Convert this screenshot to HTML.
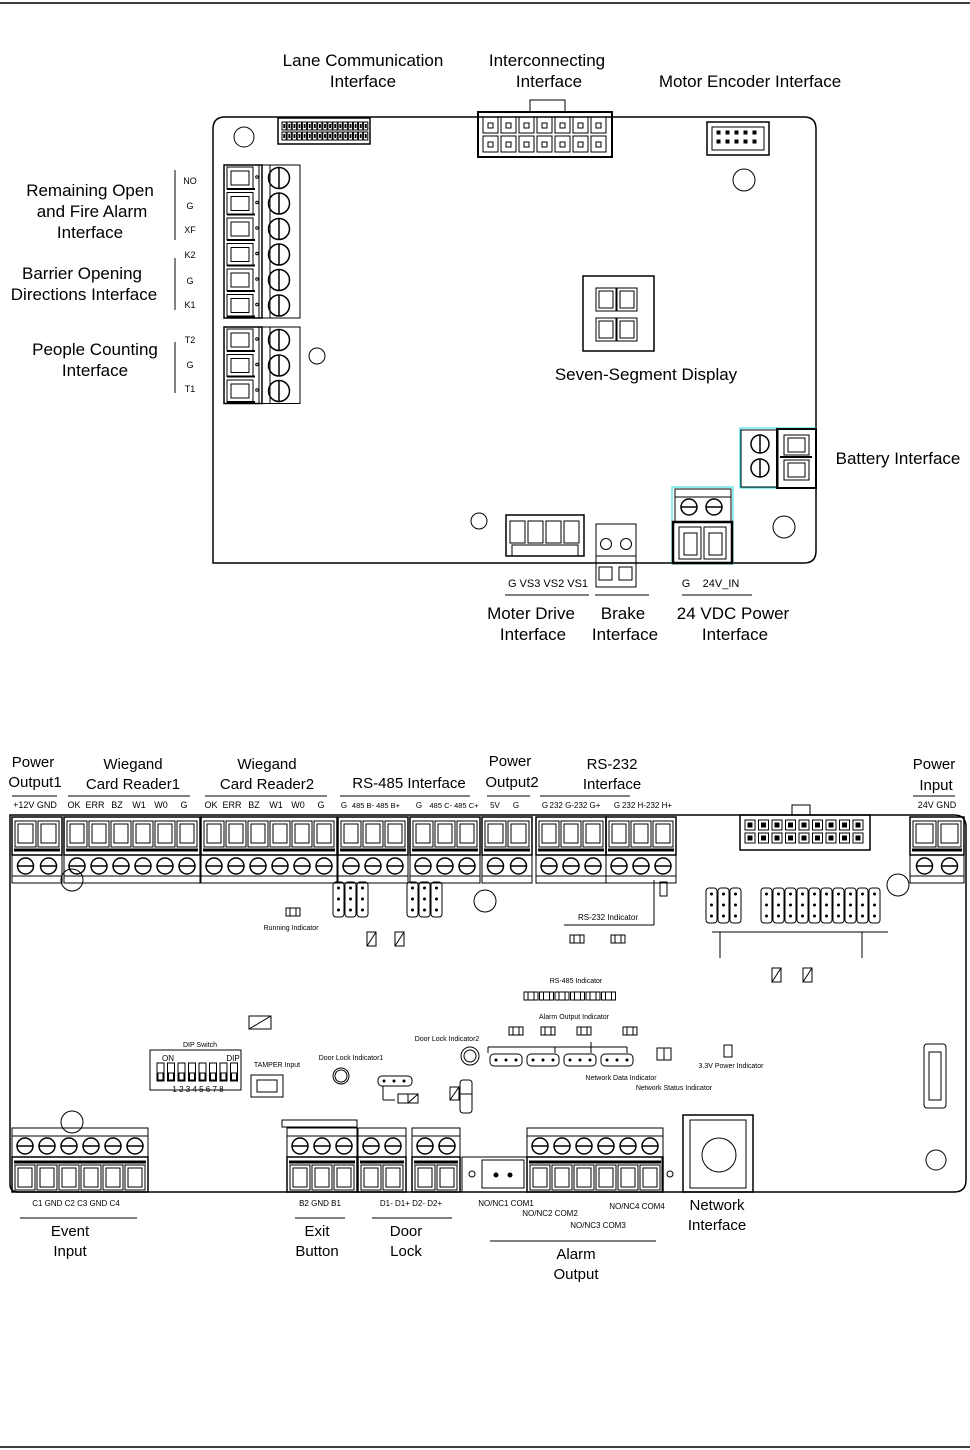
<!DOCTYPE html>
<html><head><meta charset="utf-8">
<style>
html,body{margin:0;padding:0;background:#fff;}
svg{display:block;font-family:"Liberation Sans",sans-serif;}
.h{font-size:17px;text-anchor:middle;}
.m{font-size:15px;text-anchor:middle;}
.s{font-size:9px;text-anchor:middle;}
.t{font-size:7px;text-anchor:middle;}
.p{font-size:11px;text-anchor:middle;}
</style></head><body>
<svg id="s" width="970" height="1450" viewBox="0 0 970 1450" xmlns="http://www.w3.org/2000/svg" fill="none" stroke="#000" stroke-width="1">
<line x1="0" y1="3" x2="970" y2="3" stroke-width="1.5"/>
<line x1="0" y1="1447" x2="970" y2="1447" stroke-width="1.5"/>
<g id="g" stroke="#000"></g>
<g fill="#000" stroke="none">
<text class="h" x="363" y="66">Lane Communication</text>
<text class="h" x="363" y="87">Interface</text>
<text class="h" x="547" y="66">Interconnecting</text>
<text class="h" x="549" y="87">Interface</text>
<text class="h" x="750" y="87">Motor Encoder Interface</text>
<text class="h" x="90" y="196">Remaining Open</text>
<text class="h" x="92" y="217">and Fire Alarm</text>
<text class="h" x="90" y="238">Interface</text>
<text class="h" x="82" y="279">Barrier Opening</text>
<text class="h" x="84" y="300">Directions Interface</text>
<text class="h" x="95" y="355">People Counting</text>
<text class="h" x="95" y="376">Interface</text>
<text class="s" x="190" y="184">NO</text><text class="s" x="190" y="209">G</text><text class="s" x="190" y="233">XF</text>
<text class="s" x="190" y="258">K2</text><text class="s" x="190" y="284">G</text><text class="s" x="190" y="308">K1</text>
<text class="s" x="190" y="343">T2</text><text class="s" x="190" y="368">G</text><text class="s" x="190" y="392">T1</text>
<text class="h" x="646" y="380">Seven-Segment Display</text>
<text class="h" x="898" y="464">Battery Interface</text>
<text class="p" x="548" y="587">G  VS3 VS2 VS1</text>
<text class="p" x="686" y="587">G</text><text class="p" x="721" y="587">24V_IN</text>
<text class="h" x="531" y="619">Moter Drive</text><text class="h" x="533" y="640">Interface</text>
<text class="h" x="623" y="619">Brake</text><text class="h" x="625" y="640">Interface</text>
<text class="h" x="733" y="619">24 VDC Power</text><text class="h" x="735" y="640">Interface</text>
<text class="m" x="33" y="767">Power</text><text class="m" x="35" y="787">Output1</text>
<text class="m" x="133" y="769">Wiegand</text><text class="m" x="133" y="789">Card Reader1</text>
<text class="m" x="267" y="769">Wiegand</text><text class="m" x="267" y="789">Card Reader2</text>
<text class="m" x="409" y="788">RS-485 Interface</text>
<text class="m" x="510" y="766">Power</text><text class="m" x="512" y="787">Output2</text>
<text class="m" x="612" y="769">RS-232</text><text class="m" x="612" y="789">Interface</text>
<text class="m" x="934" y="769">Power</text><text class="m" x="936" y="790">Input</text>
<text class="s" x="35" y="808">+12V  GND</text>
<text class="s" x="74" y="808">OK</text><text class="s" x="95" y="808">ERR</text><text class="s" x="117" y="808">BZ</text><text class="s" x="139" y="808">W1</text><text class="s" x="161" y="808">W0</text><text class="s" x="184" y="808">G</text>
<text class="s" x="211" y="808">OK</text><text class="s" x="232" y="808">ERR</text><text class="s" x="254" y="808">BZ</text><text class="s" x="276" y="808">W1</text><text class="s" x="298" y="808">W0</text><text class="s" x="321" y="808">G</text>
<text class="s" x="344" y="808" style="font-size:8px">G</text><text class="s" x="376" y="808" style="font-size:7.5px">485 B- 485 B+</text>
<text class="s" x="419" y="808" style="font-size:8px">G</text><text class="s" x="454" y="808" style="font-size:7.5px">485 C- 485 C+</text>
<text class="s" x="495" y="808" style="font-size:8px">5V</text><text class="s" x="516" y="808" style="font-size:8px">G</text>
<text class="s" x="545" y="808" style="font-size:8px">G</text><text class="s" x="575" y="808" style="font-size:8px">232 G-232 G+</text>
<text class="s" x="617" y="808" style="font-size:8px">G</text><text class="s" x="647" y="808" style="font-size:8px">232 H-232 H+</text>
<text class="s" x="937" y="808">24V  GND</text>
<text class="t" x="291" y="930">Running Indicator</text>
<text class="t" x="608" y="920" style="font-size:8px">RS-232 Indicator</text>
<text class="t" x="576" y="983">RS-485 Indicator</text>
<text class="t" x="574" y="1019">Alarm Output Indicator</text>
<text class="t" x="200" y="1047">DIP Switch</text>
<text class="t" x="277" y="1067">TAMPER Input</text>
<text class="t" x="351" y="1060">Door Lock Indicator1</text>
<text class="t" x="447" y="1041">Door Lock Indicator2</text>
<text class="t" x="621" y="1080">Network Data Indicator</text>
<text class="t" x="674" y="1090">Network Status Indicator</text>
<text class="t" x="731" y="1068">3.3V Power Indicator</text>
<text class="t" x="168" y="1061" style="font-size:8px">ON</text><text class="t" x="233" y="1061" style="font-size:8px">DIP</text>
<text class="t" x="198" y="1092" style="font-size:8px">1  2  3  4  5  6  7  8</text>
<text class="s" x="76" y="1206" style="font-size:8px">C1  GND  C2   C3  GND  C4</text>
<text class="s" x="320" y="1206" style="font-size:8px">B2   GND   B1</text>
<text class="s" x="411" y="1206" style="font-size:8px">D1-   D1+    D2-   D2+</text>
<text class="s" x="506" y="1206" style="font-size:8px">NO/NC1 COM1</text>
<text class="s" x="550" y="1216" style="font-size:8px">NO/NC2 COM2</text>
<text class="s" x="598" y="1228" style="font-size:8px">NO/NC3 COM3</text>
<text class="s" x="637" y="1209" style="font-size:8px">NO/NC4 COM4</text>
<text class="m" x="70" y="1236">Event</text><text class="m" x="70" y="1256">Input</text>
<text class="m" x="317" y="1236">Exit</text><text class="m" x="317" y="1256">Button</text>
<text class="m" x="406" y="1236">Door</text><text class="m" x="406" y="1256">Lock</text>
<text class="m" x="576" y="1259">Alarm</text><text class="m" x="576" y="1279">Output</text>
<text class="m" x="717" y="1210">Network</text><text class="m" x="717" y="1230">Interface</text>
</g>
</svg>
<script>
var G=document.getElementById('g'),NS='http://www.w3.org/2000/svg';
function e(t,a){var n=document.createElementNS(NS,t);for(var k in a)n.setAttribute(k,a[k]);G.appendChild(n);return n;}
function R(x,y,w,h,o){var a={x:x,y:y,width:w,height:h};for(var k in o)a[k]=o[k];return e('rect',a);}
function L(a,b,c,d,w){return e('line',{x1:a,y1:b,x2:c,y2:d,'stroke-width':w||1});}
function C(x,y,r,o){var a={cx:x,cy:y,r:r};for(var k in o)a[k]=o[k];return e('circle',a);}
function S(x,y,r,vert){C(x,y,r,{'stroke-width':1.5});if(vert)L(x,y-r,x,y+r,1.5);else L(x-r,y,x+r,y,1.5);}
// TOP BOARD
e('path',{d:'M213,563 L213,129 Q213,117 225,117 L804,117 Q816,117 816,129 L816,551 Q816,563 804,563 Z','stroke-width':1.5});
R(278,118,92,26,{'stroke-width':1.5});
for(var r=0;r<2;r++)for(var i=0;i<17;i++){R(282+i*5.1,122+r*10,4.2,8,{'stroke-width':1});R(283.3+i*5.1,124+r*10,1.8,4,{fill:'#000',stroke:'none'});}
R(530,100,35,12);R(478,112,134,45,{'stroke-width':2});
for(var r=0;r<2;r++)for(var i=0;i<7;i++){R(483+i*18,117+r*19,15,16);R(488+i*18,123+r*19,5,5);}
R(707,122,62,33,{'stroke-width':1.5});R(712,127,52,23);
for(var r=0;r<2;r++)for(var i=0;i<5;i++)R(717+i*9,131+r*9,3,3,{fill:'#000'});
C(244,137,10);C(744,180,11);C(317,356,8);C(479,521,8);C(784,527,11);
function vblock(y,n){var h=n*25.5;R(224,y,38,h,{'stroke-width':1.5});R(262,y,38,h);L(270,y,270,y+h);
 for(var i=0;i<n;i++){var yy=y+i*25.5;R(227,yy+2,26,22);R(231,yy+6,18,14);L(227,yy+24,255,yy+24,2);C(257,yy+12,1.3);S(279,yy+13,10.5,true);} L(259,y,259,y+h);}
vblock(165,6);vblock(327,3);
L(175,170,175,240);L(175,258,175,310);L(175,342,175,393);
R(583,276,71,75,{'stroke-width':1.5});
[[596,288],[617,288],[596,318],[617,318]].forEach(function(p){R(p[0],p[1],20,23);R(p[0]+3,p[1]+3,14,17);});
R(740,428,76,60,{stroke:'#2dd','stroke-width':1});R(741,430,37,57);R(777,429,39,59,{'stroke-width':2});
S(760,444,9,true);S(760,468,9,true);
R(784,435,25,20);R(788,438,17,14);R(784,460,25,20);R(788,463,17,14);L(780,457,812,457,2);
R(506,515,78,41,{'stroke-width':1.5});for(var i=0;i<4;i++)R(510+i*18,521,15,22);R(512,545,66,11);
R(596,524,40,63);L(596,556,636,556);C(606,544,5.5);C(626,544,5.5);R(599,567,13,13);R(619,567,13,13);
R(672,487,61,77,{stroke:'#2dd'});R(675,489,56,33);L(675,497,731,497);S(689,507,8,false);S(714,507,8,false);
R(673,522,59,41,{'stroke-width':2.5});R(679,527,22,32);R(684,533,13,22);R(704,527,22,32);R(709,533,13,22);
L(505,595,589,595);L(595,595,649,595);L(682,595,752,595);
// BOTTOM BOARD
e('path',{d:'M10,815 L954,815 Q966,815 966,827 L966,1180 Q966,1192 954,1192 L18,1192 Q10,1192 10,1184 Z','stroke-width':1.5});
function topBlock(x,n,w){var W=n*w+4;R(x,817,W,38,{'stroke-width':1.5});R(x,855,W,28);L(x,876,x+W,876);
 L(x+2,850,x+W-2,850,3);
 for(var i=0;i<n;i++){var xx=x+2+i*w;R(xx+1,821,w-2,26);R(xx+4,824,w-8,19);S(xx+w/2,866,8,false);}}
topBlock(12,2,23);topBlock(64,6,22);topBlock(201,6,22);topBlock(338,3,22);topBlock(410,3,22);topBlock(482,2,23);topBlock(536,3,22);topBlock(606,3,22);topBlock(910,2,25);
[[12,57],[68,190],[205,327],[340,470],[487,530],[540,630],[913,955]].forEach(function(p){L(p[0],796,p[1],796);});
R(792,805,18,10);R(740,815,130,35,{'stroke-width':1.5});
for(var r=0;r<2;r++)for(var i=0;i<9;i++){R(745+i*13.5,820+r*13,10,10);R(748+i*13.5,823+r*13,4,4,{fill:'#000'});}
function hdr(x,y,c,r){for(var i=0;i<c;i++){R(x+i*12,y,11,r*11+2,{rx:3});for(var j=0;j<r;j++)C(x+i*12+5.5,y+6+j*11,1,{fill:'#000'});}}
hdr(333,882,3,3);hdr(407,882,3,3);hdr(706,888,3,3);hdr(761,888,10,3);
C(72,880,11);C(485,901,11);C(898,885,11);C(72,1122,11);C(936,1160,10);C(341,1076,8);C(341,1076,6);C(470,1056,9);C(470,1056,6);
L(564,925,654,925);L(654,880,654,925);
L(712,932,888,932);L(720,932,720,958);L(862,932,862,958);
function led(x,y){R(x,y,14,8);L(x+4,y,x+4,y+8);L(x+10,y,x+10,y+8);}
led(286,908);led(570,935);led(611,935);
for(var i=0;i<6;i++)led(524+i*15.5,992);
led(509,1027);led(541,1027);led(577,1027);led(623,1027);
R(660,882,7,14);R(657,1048,14,12);L(664,1048,664,1060);R(724,1045,8,12);
R(249,1016,22,13);L(249,1029,271,1016);
R(367,932,9,14);L(367,946,376,932);R(395,932,9,14);L(395,946,404,932);
R(772,968,9,14);L(772,982,781,968);R(803,968,9,14);L(803,982,812,968);
for(var i=0;i<4;i++){var xx=490+i*37;R(xx,1054,32,12,{rx:4});for(var j=0;j<3;j++)C(xx+6+j*10,1060,1,{fill:'#000'});}
L(488,1047,627,1047);L(488,1047,488,1053);L(591,1042,591,1053);L(555,1047,555,1053);L(627,1047,627,1053);
R(378,1076,34,10,{rx:4});for(var j=0;j<3;j++)C(384+j*10,1081,1,{fill:'#000'});
L(383,1086,383,1100);L(383,1100,395,1100);R(398,1094,10,9);R(408,1094,10,9);L(408,1103,418,1094);
R(450,1087,9,13);L(450,1100,459,1087);L(459,1094,472,1094);R(460,1080,12,33,{rx:3});
R(150,1050,91,40);for(var i=0;i<8;i++){R(157+i*10.5,1063,7,18);R(158+i*10.5,1073,5,7);}
R(251,1075,32,22);R(257,1080,20,12);
R(924,1044,22,64,{rx:3});R(929,1052,12,48);
function botBlock(x,n,w,screws){var W=n*w+4;if(screws){R(x,1128,W,29);L(x,1136,x+W,1136);}
 R(x,1157,W,35,{'stroke-width':1.5});L(x+2,1162,x+W-2,1162,3);
 for(var i=0;i<n;i++){var xx=x+2+i*w;if(screws)S(xx+w/2,1146,8,false);R(xx+1,1165,w-2,25);R(xx+4,1168,w-8,19);}}
botBlock(12,6,22,1);botBlock(287,3,22,1);botBlock(358,2,22,1);botBlock(412,2,22,1);botBlock(527,6,22,1);
R(282,1120,75,7);
R(462,1157,200,35);C(472,1174,3);C(670,1174,3);R(482,1160,42,28);C(496,1175,2,{fill:'#000'});C(510,1175,2,{fill:'#000'});
R(683,1115,70,77,{'stroke-width':1.5});R(690,1120,56,68);C(719,1155,17);
L(20,1218,137,1218);L(295,1218,345,1218);L(372,1218,452,1218);L(490,1241,656,1241);
</script>
</body></html>
